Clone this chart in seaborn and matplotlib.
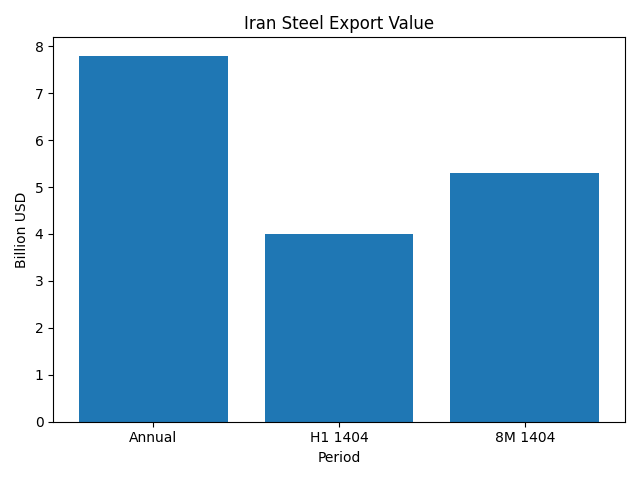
import matplotlib
matplotlib.use("Agg")
import matplotlib.pyplot as plt
import seaborn as sns
import pandas as pd

# Data
periods = ["Annual", "H1 1404", "8M 1404"]
export_value = [7.8, 4.0, 5.3]

df = pd.DataFrame({"Period": periods, "Billion USD": export_value})

fig, ax = plt.subplots(figsize=(6.4, 4.8), dpi=100)
sns.barplot(data=df, x="Period", y="Billion USD", color="#1f77b4",
            saturation=1, width=0.8, ax=ax)

# match matplotlib's default bar margins
n = len(periods)
span = (n - 1) + 0.8
ax.set_xlim(-0.4 - 0.05 * span, n - 1 + 0.4 + 0.05 * span)

ax.set_title("Iran Steel Export Value")
ax.set_xlabel("Period")
ax.set_ylabel("Billion USD")

plt.tight_layout()
plt.savefig("out.png", dpi=100)
